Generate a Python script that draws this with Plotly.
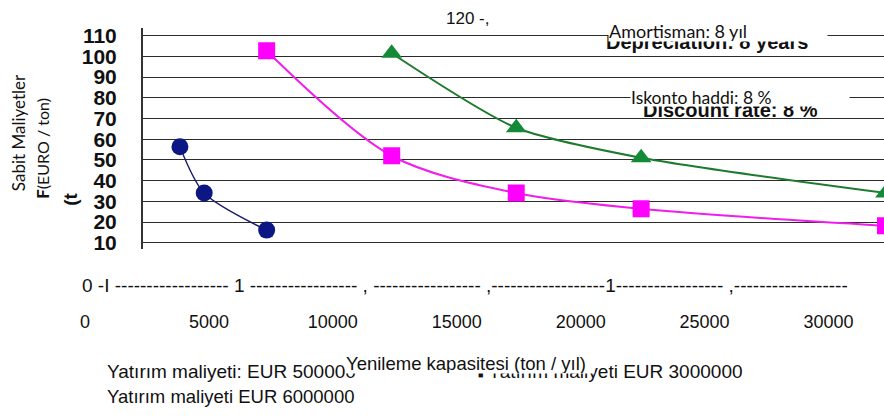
import plotly.graph_objects as go

# Renewal capacity (t / year) and fixed cost (EUR / t) for each investment level
cap_500k = [3830, 4810, 7330]
cost_500k = [56.4, 34.0, 16.1]

cap_3m = [7330, 12375, 17400, 22440, 32300]
cost_3m = [102.7, 52.0, 34.0, 26.4, 18.2]

cap_6m = [12375, 17400, 22440, 32300]
cost_6m = [101.5, 65.5, 51.0, 34.0]

y_ticks = [10, 20, 30, 40, 50, 60, 70, 80, 90, 100, 110]
x_ticks = [0, 5000, 10000, 15000, 20000, 25000, 30000]
x_tick_text = ["0", "5000", "10000", "15000", "20000", "25000", "30000"]

legend_500k = "Yatırım maliyeti: EUR 500000"
legend_3m = "Yatırım maliyeti EUR 3000000"
legend_6m = "Yatırım maliyeti EUR 6000000"
x_title = "Yenileme kapasitesi (ton / yıl)"

W, H = 884, 419
ARIAL = "Liberation Sans, Arial, sans-serif"
CALIBRI = "Lato, Carlito, Calibri, sans-serif"

# horizontal scale shared by the plot axis and the label axis
X0_PX = 85.0
PX_PER_UNIT = 743.5 / 30000.0
PLOT_LEFT, PLOT_RIGHT = 143.0, 884.0
PLOT_TOP, PLOT_BOTTOM = 25.0, 250.0


def data_x(p):
    return (p - X0_PX) / PX_PER_UNIT


def px(x):
    return x / W


def py(y):
    return 1 - y / H


# vertical scale: 110 at 32 px, 10 at 244 px
Y_PX_PER_UNIT = 2.117


def data_y(p):
    return 10 + (244 - p) / Y_PX_PER_UNIT


fig = go.Figure()

fig.add_trace(go.Scatter(
    x=cap_500k, y=cost_500k, mode="lines+markers",
    line=dict(color="#1b1b6b", width=1.4, shape="spline", smoothing=0.8),
    marker=dict(symbol="circle", size=17, color="#0c1784"),
    showlegend=False, hoverinfo="skip"))

fig.add_trace(go.Scatter(
    x=cap_3m, y=cost_3m, mode="lines+markers",
    line=dict(color="#ef1ee9", width=2, shape="spline", smoothing=0.9),
    marker=dict(symbol="square", size=17, color="#ff00ff"),
    showlegend=False, hoverinfo="skip"))

fig.add_trace(go.Scatter(
    x=cap_6m, y=cost_6m, mode="lines+markers",
    line=dict(color="#1e7a2c", width=2, shape="spline", smoothing=0.7),
    marker=dict(symbol="triangle-up", size=18, color="#128a37"),
    showlegend=False, hoverinfo="skip"))

# empty trace that carries the separate tick-label axis
fig.add_trace(go.Scatter(x=[], y=[], xaxis="x2", yaxis="y2",
                         showlegend=False, hoverinfo="skip"))

ann = []


def text(t, x, y, size=18, family=ARIAL, xanchor="left", color="#111",
         **kw):
    ann.append(dict(text=t, x=px(x), y=py(y), xref="paper", yref="paper",
                    xanchor=xanchor, yanchor="middle", showarrow=False,
                    font=dict(family=family, size=size, color=color), **kw))


text("120 -,", 467, 15, size=17, xanchor="center")

text("<b>Depreciation: 8 years</b>", 604, 39, size=20)
text("Amortisman: 8 yıl", 608, 28, size=18, family=CALIBRI,
     bgcolor="white", width=218, height=20, align="left", borderpad=0)

text("<b>Discount rate: 8 %</b>", 641, 108, size=20)
text("Iskonto haddi: 8 %", 630, 95, size=17.5, family=CALIBRI,
     bgcolor="white", width=218, height=18, align="left", borderpad=0)

text("Sabit Maliyetler", 18, 132, size=17, family=CALIBRI,
     xanchor="center", textangle=-90)
text("<b><span style='font-size:17px'>F</span></b>(EURO / ton)", 43, 148,
     size=16, family=CALIBRI, xanchor="center", textangle=-90)
text("<b>(t</b>", 71, 200, size=19, family=ARIAL, xanchor="center",
     textangle=-90)

dash_line = ("0 -I " + "-" * 18 + " 1 " + "-" * 17 + " , " + "-" * 17
             + " ," + "-" * 18 + "1" + "-" * 17 + " ," + "-" * 18)
text(dash_line, 80, 288, size=19)

text(legend_500k, 105, 376, size=19)
text("<span style='font-size:9px'>■</span> " + legend_3m, 476, 376,
     size=19)
text(x_title, 345, 367, size=18.5, bgcolor="white", width=248, height=20,
     align="left", borderpad=0)
text(legend_6m, 105, 401, size=18.5)

fig.update_layout(
    width=W, height=H,
    margin=dict(l=0, r=0, t=0, b=0),
    paper_bgcolor="white", plot_bgcolor="white",
    annotations=ann,
    xaxis=dict(
        domain=[px(PLOT_LEFT), px(PLOT_RIGHT)],
        range=[data_x(PLOT_LEFT), data_x(PLOT_RIGHT)],
        showgrid=False, zeroline=False, showline=False,
        showticklabels=False, ticks=""),
    yaxis=dict(
        domain=[py(PLOT_BOTTOM), py(PLOT_TOP)],
        range=[data_y(PLOT_BOTTOM), data_y(PLOT_TOP)],
        tickvals=y_ticks,
        showgrid=True, gridcolor="#2b2b2b", gridwidth=1.3,
        zeroline=False, showline=True, linecolor="#333", linewidth=2,
        ticks="", ticklabelstandoff=20,
        tickfont=dict(family=ARIAL, size=21, color="#111", weight="bold")),
    xaxis2=dict(
        domain=[0, 1], anchor="y2",
        range=[data_x(0), data_x(W)],
        tickvals=x_ticks, ticktext=x_tick_text,
        showgrid=False, zeroline=False, showline=False, ticks="",
        tickfont=dict(family=ARIAL, size=18, color="#111")),
    yaxis2=dict(
        domain=[py(312), py(300)], anchor="x2", visible=False,
        showgrid=False, zeroline=False),
)

fig.write_html("out.html")
